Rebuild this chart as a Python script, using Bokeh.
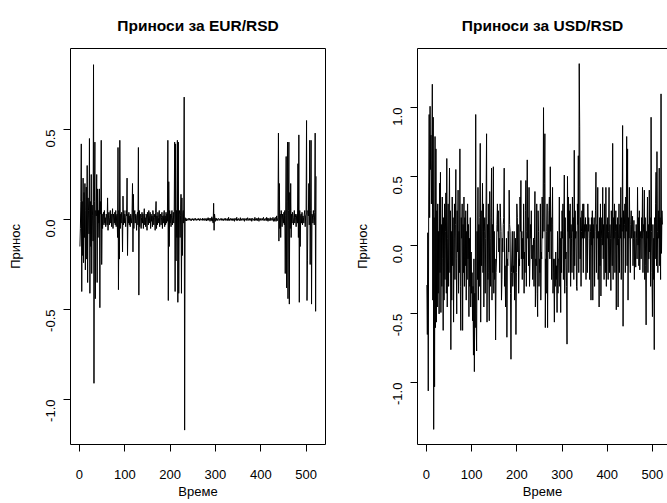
import math
from bokeh.plotting import figure
from bokeh.layouts import row
from bokeh.models import Range1d, FixedTicker, PrintfTickFormatter, LinearAxis
from bokeh.embed import file_html
from bokeh.resources import INLINE

FONT = "Liberation Sans"

eur_returns = [
    -0.15, -0.05, 0.10, 0.42, -0.40, 0.10, -0.20, 0.23, -0.24, 0.15,
    -0.10, 0.20, -0.28, 0.05, 0.18, -0.22, 0.30, -0.35, 0.12, 0.05,
    -0.08, 0.45, -0.41, 0.10, -0.15, 0.25, -0.30, 0.08, 0.02, -0.12,
    0.86, -0.91, 0.10, 0.43, -0.44, 0.05, 0.02, 0.25, -0.35, 0.17,
    -0.10, 0.05, -0.02, 0.17, -0.49, 0.10, 0.03, 0.44, -0.25, 0.03,
    -0.05, 0.02, 0.04, -0.03, 0.05, -0.02, 0.01, -0.04, 0.03, 0.02,
    -0.03, 0.12, -0.06, 0.02, 0.04, -0.03, 0.01, 0.05, -0.02, 0.03,
    -0.04, 0.02, 0.06, -0.05, 0.03, 0.01, -0.02, 0.04, -0.03, 0.05,
    -0.04, 0.02, 0.03, -0.10, 0.40, -0.39, 0.05, -0.22, 0.44, -0.05,
    0.03, -0.02, 0.04, 0.01, -0.18, 0.13, -0.03, 0.05, -0.02, 0.03,
    0.01, -0.04, 0.05, 0.02, 0.23, -0.20, 0.03, -0.02, 0.04, -0.03,
    0.02, -0.04, 0.03, 0.01, -0.02, 0.03, 0.20, -0.18, 0.14, -0.05,
    0.03, 0.05, -0.02, 0.03, 0.02, -0.06, 0.02, 0.04, -0.03, 0.40,
    -0.42, 0.05, -0.04, 0.02, 0.03, -0.05, 0.01, 0.04, -0.02, 0.03,
    -0.05, 0.02, 0.06, -0.03, 0.01, -0.04, 0.03, 0.02, -0.06, 0.04,
    0.01, -0.03, 0.05, -0.02, 0.02, 0.04, -0.05, 0.03, -0.01, 0.02,
    -0.04, 0.05, 0.02, -0.03, 0.03, 0.01, -0.06, 0.04, 0.10, -0.05,
    0.02, -0.03, 0.04, 0.01, -0.02, 0.05, -0.04, 0.02, 0.03, -0.03,
    0.01, 0.04, -0.05, 0.02, -0.02, 0.03, 0.05, -0.04, 0.02, -0.03,
    0.04, -0.02, 0.03, -0.01, 0.44, -0.45, 0.21, -0.15, 0.05, -0.02,
    0.03, -0.04, 0.02, 0.05, -0.03, 0.01, 0.04, -0.02, 0.03, 0.43,
    -0.40, 0.42, -0.23, 0.05, -0.10, 0.44, -0.46, 0.43, -0.41, 0.03,
    0.05, -0.10, 0.02, 0.14, -0.41, 0.12, -0.20, 0.03, 0.05, -0.02,
    0.68, -1.17, 0.010, -0.006, 0.005, -0.008, 0.004, 0.000, -0.005, 0.006,
    0.005, -0.004, 0.006, 0.000, -0.005, 0.004, -0.006, 0.002, 0.005, -0.003,
    0.004, -0.006, 0.001, 0.005, -0.004, 0.006, 0.000, -0.005, 0.003, 0.002,
    -0.004, 0.006, -0.002, 0.004, -0.006, 0.003, 0.005, -0.004, 0.002, 0.000,
    -0.005, 0.008, -0.003, 0.002, -0.006, 0.005, 0.000, -0.004, 0.006, -0.008,
    0.004, 0.006, -0.005, 0.010, -0.004, 0.002, 0.006, -0.010, 0.004, 0.008,
    -0.006, 0.015, -0.010, 0.006, -0.020, 0.090, -0.060, 0.030, 0.005, -0.010,
    0.008, -0.004, 0.005, -0.006, 0.002, 0.004, 0.006, -0.005, 0.000, -0.004,
    0.005, 0.000, -0.004, 0.006, -0.005, 0.002, 0.004, -0.006, 0.001, 0.005,
    -0.004, 0.006, -0.005, 0.004, 0.000, -0.006, 0.005, -0.004, 0.012, -0.006,
    0.002, -0.005, 0.006, 0.000, -0.004, 0.005, -0.006, 0.004, 0.002, -0.005,
    0.006, -0.010, 0.004, 0.000, 0.006, -0.005, 0.012, -0.006, 0.002, -0.004,
    0.005, 0.004, -0.006, 0.000, 0.010, -0.006, 0.002, -0.004, 0.006, 0.000,
    -0.005, 0.004, 0.006, -0.010, 0.005, 0.000, -0.004, 0.006, -0.005, 0.002,
    0.010, -0.006, 0.000, 0.005, -0.004, 0.006, -0.005, 0.002, 0.006, -0.010,
    0.005, 0.006, -0.005, 0.000, 0.004, -0.006, 0.012, -0.005, 0.002, 0.006,
    -0.005, 0.006, -0.006, 0.002, 0.010, -0.010, 0.005, 0.000, -0.004, 0.006,
    -0.005, 0.000, 0.006, -0.004, 0.005, 0.012, -0.006, 0.002, -0.005, 0.006,
    0.000, -0.006, 0.012, -0.005, 0.006, -0.010, 0.005, 0.006, -0.006, 0.002,
    0.010, -0.006, 0.002, 0.006, -0.005, 0.006, 0.012, -0.010, 0.005, 0.006,
    -0.010, 0.012, 0.006, -0.010, 0.020, 0.000, -0.006, 0.010, 0.48, -0.12,
    0.20, -0.05, 0.03, -0.10, 0.05, 0.02, -0.04, 0.03, 0.01, -0.02,
    0.04, -0.03, 0.05, -0.30, 0.02, 0.35, -0.38, 0.10, 0.43, -0.44,
    0.05, 0.43, -0.47, 0.15, -0.05, 0.20, -0.10, 0.03, -0.02, 0.04,
    0.02, -0.03, 0.01, 0.05, -0.02, 0.03, 0.01, -0.04, 0.02, 0.03,
    -0.02, 0.31, -0.10, 0.47, -0.46, 0.05, -0.15, 0.02, 0.03, -0.02,
    0.04, -0.03, 0.02, 0.01, -0.02, 0.03, 0.05, -0.04, 0.02, 0.03,
    0.55, -0.45, -0.23, 0.05, 0.02, 0.20, -0.03, 0.44, -0.25, 0.05,
    0.44, -0.47, 0.03, 0.02, -0.02, 0.05, 0.01, -0.03, 0.04, 0.48,
    -0.51, 0.24,
]

usd_returns = [
    -0.29, -0.65, 0.09, -1.06, 0.35, 0.95, 0.20, 1.01, 0.55, 0.80,
    0.30, 0.62, 1.17, -0.40, 0.93, -1.34, 0.20, -1.03, 0.79, -0.60,
    0.70, -0.56, 0.25, -0.45, 0.30, -0.35, 0.10, -0.50, 0.45, -0.20,
    0.53, -0.49, 0.15, -0.30, 0.35, -0.10, -0.62, 0.20, -0.40, 0.30,
    -0.25, 0.10, 0.38, -0.35, 0.63, -0.45, 0.05, 0.30, -0.30, 0.22,
    0.56, -0.20, 0.25, -0.76, 0.10, -0.40, 0.35, -0.15, 0.20, -0.56,
    0.05, 0.30, -0.25, 0.15, 0.55, -0.10, -0.50, 0.25, -0.05, 0.40,
    -0.35, 0.10, -0.20, 0.70, -0.30, -0.62, 0.20, 0.05, 0.30, -0.62,
    0.15, -0.20, 0.35, -0.30, 0.20, -0.15, 0.25, -0.40, 0.10, -0.25,
    0.30, -0.10, 0.15, -0.52, 0.05, -0.30, 0.20, -0.45, -0.05, -0.35,
    -0.20, -0.55, -0.30, -0.80, -0.10, -0.92, -0.35, -0.60, 0.95, -0.50,
    -0.77, 0.10, -0.25, 0.42, -0.40, 0.15, -0.30, 0.20, 0.74, -0.56,
    0.25, -0.15, 0.10, 0.45, -0.20, 0.30, -0.45, 0.10, 0.20, -0.35,
    0.05, 0.35, 0.81, -0.56, 0.15, -0.25, 0.30, -0.20, -0.55, 0.39,
    0.05, -0.30, 0.20, 0.56, -0.40, 0.15, -0.20, 0.57, -0.35, 0.10,
    -0.25, -0.10, -0.69, -0.20, -0.10, 0.15, 0.30, 0.10, 0.25, -0.05,
    0.05, -0.20, 0.30, 0.20, 0.10, -0.40, -0.25, 0.05, -0.05, 0.15,
    0.20, 0.56, -0.30, -0.15, -0.45, -0.20, 0.05, -0.67, -0.10, -0.15,
    0.10, -0.05, 0.40, 0.15, 0.10, -0.35, -0.83, -0.20, -0.05, 0.10,
    -0.30, -0.15, -0.20, 0.10, -0.40, -0.10, 0.05, -0.65, -0.20, 0.30,
    0.20, -0.05, 0.15, -0.35, -0.10, -0.15, 0.35, 0.10, 0.47, -0.10,
    0.10, -0.25, 0.05, -0.10, 0.30, -0.35, -0.05, -0.20, 0.25, 0.47,
    -0.30, 0.10, 0.62, 0.05, 0.20, -0.15, 0.42, -0.30, -0.10, 0.15,
    0.05, 0.25, -0.10, 0.00, -0.25, -0.05, 0.05, -0.30, 0.04, 0.39,
    -0.45, -0.10, -0.15, 0.30, -0.35, -0.52, 0.25, 0.10, -0.30, -0.10,
    -0.20, 0.30, -0.40, -0.05, -0.10, 0.35, 0.05, 0.20, 1.00, 0.10,
    0.45, 0.81, -0.60, -0.10, -0.35, 0.10, 0.30, -0.60, 0.15, -0.05,
    0.25, 0.35, -0.10, 0.57, 0.10, 0.20, -0.25, 0.15, 0.42, -0.35,
    -0.10, -0.20, -0.56, -0.10, -0.30, -0.05, -0.25, -0.15, -0.49, 0.10,
    -0.35, -0.10, -0.10, 0.35, -0.30, 0.05, -0.49, 0.10, -0.20, 0.25,
    0.05, 0.30, -0.25, 0.10, 0.51, -0.35, 0.20, -0.10, -0.05, -0.30,
    -0.72, 0.50, 0.10, 0.35, -0.20, 0.25, 0.05, 0.30, -0.30, 0.15,
    0.05, -0.20, 0.35, 0.10, 0.20, -0.25, 0.69, -0.15, 0.25, 0.05,
    0.10, -0.30, -0.33, 0.30, 0.15, 0.65, -0.20, 1.32, 0.86, -0.10,
    0.20, -0.30, 0.10, 0.25, 0.05, 0.30, -0.20, 0.30, 0.05, 0.15,
    0.10, 0.20, -0.25, 0.15, 0.10, -0.20, 0.30, 0.10, 0.20, 0.05,
    -0.25, 0.15, 0.10, -0.40, 0.20, 0.00, 0.25, -0.40, 0.15, 0.05,
    0.20, -0.30, 0.10, 0.25, 0.53, -0.20, 0.15, 0.05, 0.42, -0.25,
    0.10, -0.45, 0.20, -0.15, 0.30, -0.37, 0.05, 0.20, 0.00, 0.42,
    -0.10, 0.15, -0.25, 0.30, 0.10, -0.20, 0.42, -0.30, 0.15, 0.05,
    0.20, -0.25, 0.10, 0.42, -0.20, 0.15, 0.05, -0.33, 0.25, 0.05,
    -0.15, 0.74, -0.25, 0.20, 0.05, 0.30, -0.20, 0.10, 0.25, -0.47,
    0.15, 0.00, 0.20, -0.45, 0.05, 0.30, -0.20, 0.15, 0.05, 0.42,
    -0.25, 0.20, 0.10, 0.87, -0.59, 0.25, 0.05, 0.15, 0.30, -0.20,
    0.35, 0.10, 0.79, -0.15, 0.70, -0.40, 0.20, 0.05, 0.42, 0.05,
    -0.20, 0.15, 0.25, 0.05, 0.10, 0.21, -0.15, 0.05, 0.18, -0.25,
    0.10, -0.05, -0.16, 0.15, 0.05, -0.10, 0.42, 0.00, 0.20, -0.15,
    0.25, -0.18, 0.10, 0.05, -0.10, 0.20, 0.05, 0.42, -0.20, 0.15,
    0.10, 0.40, -0.25, 0.20, -0.15, -0.58, 0.10, 0.05, 0.35, -0.20,
    0.15, -0.10, 0.40, -0.05, 0.20, -0.30, 0.93, 0.10, -0.20, -0.52,
    0.15, -0.25, 0.05, -0.76, 0.20, -0.10, 0.30, 0.53, -0.15, 0.68,
    0.10, -0.20, 0.25, 0.05, 0.56, -0.15, 0.20, -0.25, 1.10, -0.06,
    0.25, 0.15,
]

eur_time = list(range(1, len(eur_returns) + 1))
usd_time = list(range(1, len(usd_returns) + 1))

x_ticks = [0, 100, 200, 300, 400, 500]
eur_y_ticks = [-1.0, -0.5, 0.0, 0.5]
usd_y_ticks = [-1.0, -0.5, 0.0, 0.5, 1.0]

title_eur = "Приноси за EUR/RSD"
title_usd = "Приноси за USD/RSD"
x_label = "Време"
y_label = "Принос"


def style_axis(ax, ticks, fmt, is_y):
    ax.ticker = FixedTicker(ticks=ticks)
    ax.formatter = PrintfTickFormatter(format=fmt)
    ax.major_tick_in = 0
    ax.major_tick_out = 7
    ax.major_tick_line_color = "black"
    ax.major_tick_line_width = 1
    ax.minor_tick_line_color = None
    ax.major_label_text_font = FONT
    ax.major_label_text_font_size = "13px"
    ax.major_label_text_color = "black"
    ax.axis_label_text_font = FONT
    ax.axis_label_text_font_size = "13px"
    ax.axis_label_text_font_style = "normal"
    ax.axis_label_text_color = "black"
    if is_y:
        ax.major_label_orientation = math.pi / 2
        ax.major_label_standoff = 13
        ax.axis_label_standoff = 16
    else:
        ax.major_label_standoff = 18
        ax.axis_label_standoff = 2


def make_panel(title, xs, ys, x_rng, y_rng, y_ticks, width, left, right, cut_right):
    p = figure(width=width, height=503, x_range=Range1d(*x_rng), y_range=Range1d(*y_rng),
               output_backend="svg", toolbar_location=None,
               min_border_left=left, min_border_right=right,
               min_border_top=48, min_border_bottom=59,
               x_axis_location=None, y_axis_location=None,
               title=title)
    p.background_fill_color = "white"
    p.border_fill_color = "white"
    p.grid.visible = False
    p.title.text_font = FONT
    p.title.text_font_size = "15.5px"
    p.title.text_font_style = "bold"
    p.title.text_color = "black"
    p.title.standoff = 29
    p.title.align = "center"

    xa = LinearAxis(axis_label=x_label)
    style_axis(xa, x_ticks, "%d", False)
    ya = LinearAxis(axis_label=y_label)
    style_axis(ya, y_ticks, "%.1f", True)

    if cut_right:
        p.outline_line_color = None
        xa.axis_line_color = "black"
        ya.axis_line_color = "black"
        top = LinearAxis(ticker=FixedTicker(ticks=[]))
        top.axis_line_color = "black"
        top.major_tick_line_color = None
        top.minor_tick_line_color = None
        top.major_label_text_font_size = "0px"
        top.major_label_standoff = 0
        top.major_tick_out = 0
        top.major_tick_in = 0
        p.add_layout(top, "above")
    else:
        p.outline_line_color = "black"
        p.outline_line_width = 1
        p.outline_line_alpha = 1
        xa.axis_line_color = None
        ya.axis_line_color = None

    p.add_layout(xa, "below")
    p.add_layout(ya, "left")

    p.line(xs, ys, line_color="black", line_width=1)
    return p


p1 = make_panel(title_eur, eur_time, eur_returns, (-19.8, 542.8), (-1.25, 0.95),
                eur_y_ticks, 347, 70, 22, False)

p2 = make_panel(title_usd, usd_time, usd_returns, (-19.8, 533.3), (-1.45, 1.43),
                usd_y_ticks, 320, 70, 0, True)

layout = row(p1, p2)
open("out.html", "w").write(file_html(layout, INLINE))
